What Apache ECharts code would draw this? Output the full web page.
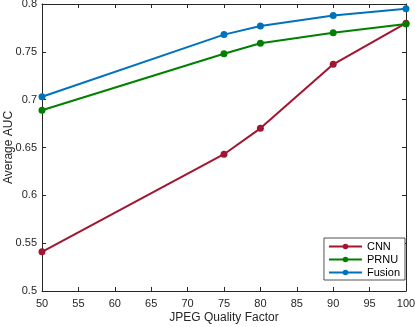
<!DOCTYPE html>
<html>
<head>
<meta charset="utf-8">
<script src="https://cdn.jsdelivr.net/npm/echarts@6/dist/echarts.min.js"></script>
<style>
  html, body { margin: 0; padding: 0; background: #fff; }
  #chart { width: 415px; height: 327px; }
</style>
</head>
<body>
<div id="chart"></div>
<script>
// JPEG quality factors
const quality = [50, 75, 80, 90, 100];
// average AUC per method
const cnn = [0.541, 0.643, 0.670, 0.737, 0.780];
const prnu = [0.689, 0.748, 0.759, 0.770, 0.779];
const fusion = [0.703, 0.768, 0.777, 0.788, 0.795];

const ink = '#262626';
const font = 'Liberation Sans';

const pairs = arr => quality.map((q, i) => [q, arr[i]]);

const mkX = (pos, show) => ({
  type: 'value', position: pos, min: 50, max: 100, interval: 5,
  axisLine: { show: true, onZero: false, lineStyle: { color: ink, width: 1 } },
  axisTick: { show: true, inside: true, length: 4, lineStyle: { color: ink } },
  axisLabel: { show: show, color: ink, fontFamily: font, fontSize: 11, margin: 7 },
  splitLine: { show: false }
});
const mkY = (pos, show) => ({
  type: 'value', position: pos, min: 0.5, max: 0.8, interval: 0.05,
  axisLine: { show: true, onZero: false, lineStyle: { color: ink, width: 1 } },
  axisTick: { show: true, inside: true, length: 4, lineStyle: { color: ink } },
  axisLabel: { show: show, color: ink, fontFamily: font, fontSize: 11, margin: 5 },
  splitLine: { show: false }
});

const line = (name, data, color) => ({
  name: name, type: 'line', data: pairs(data),
  symbol: 'circle', symbolSize: 7,
  lineStyle: { color: color, width: 2 },
  itemStyle: { color: color },
  animation: false
});

const chart = echarts.init(document.getElementById('chart'));
chart.setOption({
  backgroundColor: '#fff',
  grid: { left: 42, right: 9, top: 4, bottom: 36, outerBoundsMode: 'none' },
  xAxis: [
    Object.assign(mkX('bottom', true), {
      name: 'JPEG Quality Factor', nameLocation: 'middle', nameGap: 21,
      nameMoveOverlap: false,
      nameTextStyle: { color: ink, fontFamily: font, fontSize: 12 }
    }),
    mkX('top', false)
  ],
  yAxis: [
    Object.assign(mkY('left', true), {
      name: 'Average AUC', nameLocation: 'middle', nameGap: 27,
      nameMoveOverlap: false,
      nameTextStyle: { color: ink, fontFamily: font, fontSize: 12 }
    }),
    mkY('right', false)
  ],
  legend: {
    orient: 'vertical', right: 10, bottom: 47,
    itemWidth: 33, itemHeight: 7, itemGap: 2,
    padding: [3, 5, 2, 4],
    borderColor: ink, borderWidth: 0.8,
    backgroundColor: '#fff',
    textStyle: { color: '#000', fontFamily: font, fontSize: 11 },
    data: ['CNN', 'PRNU', 'Fusion']
  },
  series: [
    line('CNN', cnn, '#A2142F'),
    line('PRNU', prnu, '#008000'),
    line('Fusion', fusion, '#0072BD')
  ]
});
</script>
</body>
</html>
